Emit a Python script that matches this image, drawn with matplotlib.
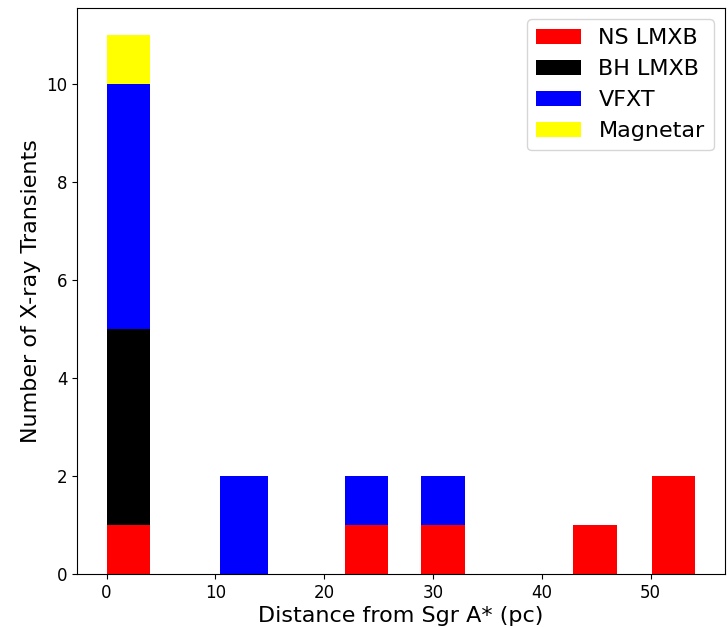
import matplotlib
matplotlib.use("Agg")
import matplotlib.pyplot as plt
import numpy as np

bin_left = [0.0, 10.4, 21.9, 28.9, 42.9, 50.1]
bin_width = [4.0, 4.4, 4.0, 4.0, 4.0, 4.0]
categories = ["NS LMXB", "BH LMXB", "VFXT", "Magnetar"]
colors = ["red", "black", "blue", "yellow"]
ns_lmxb = [1, 0, 1, 1, 1, 2]
bh_lmxb = [4, 0, 0, 0, 0, 0]
vfxt = [5, 2, 1, 1, 0, 0]
magnetar = [1, 0, 0, 0, 0, 0]
series = [ns_lmxb, bh_lmxb, vfxt, magnetar]

fig = plt.figure(figsize=(7.28, 6.27), dpi=100)
ax = fig.add_axes([0.106, 0.0845, 0.8895, 0.9025])

bottom = np.zeros(len(bin_left))
for name, col, vals in zip(categories, colors, series):
    vals = np.array(vals, dtype=float)
    ax.bar(bin_left, vals, width=bin_width, bottom=bottom, align="edge",
           color=col, label=name, linewidth=0)
    bottom += vals

ax.set_xlabel("Distance from Sgr A* (pc)", fontsize=16, labelpad=3)
ax.set_ylabel("Number of X-ray Transients", fontsize=16)
ax.tick_params(labelsize=12)
ax.legend(fontsize=16, loc="upper right")

fig.savefig("out.png", dpi=100)
